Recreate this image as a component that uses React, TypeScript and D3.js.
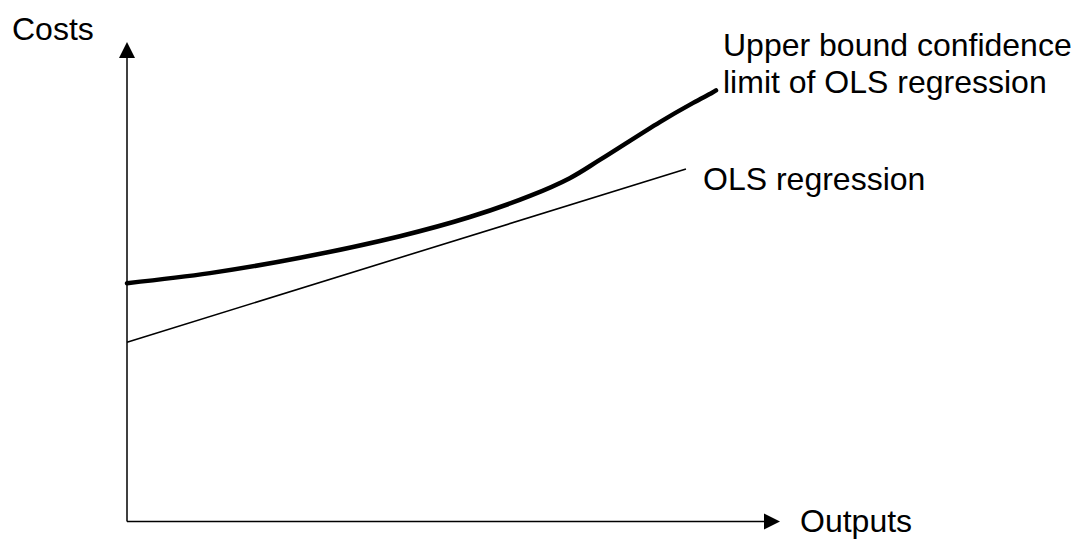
import React from "react";
import * as d3 from "d3";

// Abstract data space: outputs (x) 0..100, costs (y) 0..100
const upperBoundX = [0, 12.7, 26.5, 41.8, 52.5, 61.7, 67.8, 72.4, 81.6, 86.7, 89.6, 90.2];
const upperBoundY = [49.7, 51.8, 55.0, 59.5, 63.5, 67.9, 71.6, 75.4, 83.3, 87.3, 89.4, 89.9];
const olsX = [0, 85.6];
const olsY = [37.4, 73.5];

const axisLabelX = "Outputs";
const axisLabelY = "Costs";
const upperLabel = ["Upper bound confidence", "limit of OLS regression"];
const olsLabel = "OLS regression";

const W = 1074;
const H = 540;

export default function App() {
  const x = d3.scaleLinear().domain([0, 100]).range([127, 780]);
  const y = d3.scaleLinear().domain([0, 100]).range([521.5, 42]);

  const line = d3
    .line<[number, number]>()
    .x((d) => x(d[0]))
    .y((d) => y(d[1]))
    .curve(d3.curveCatmullRom.alpha(0.5));

  const upperPts: [number, number][] = upperBoundX.map((v, i) => [v, upperBoundY[i]]);
  const olsPts: [number, number][] = olsX.map((v, i) => [v, olsY[i]]);

  const x0 = x(0);
  const y0 = y(0);
  const xEnd = x(100);
  const yEnd = y(100);
  const ah = 16;
  const aw = 8;
  const font = "'Liberation Sans', Arial, sans-serif";

  return (
    <svg
      width={W}
      height={H}
      style={{ position: "absolute", left: 0, top: 0, display: "block", background: "#fff" }}
    >
      {/* axes */}
      <line x1={x0} y1={y0} x2={x0} y2={yEnd + ah - 1} stroke="#000" strokeWidth={1.5} />
      <line x1={x0} y1={y0} x2={xEnd - ah + 1} y2={y0} stroke="#000" strokeWidth={1.5} />
      <path
        d={`M${x0},${yEnd} L${x0 - aw},${yEnd + ah} L${x0 + aw},${yEnd + ah} Z`}
        fill="#000"
      />
      <path
        d={`M${xEnd},${y0} L${xEnd - ah},${y0 - aw} L${xEnd - ah},${y0 + aw} Z`}
        fill="#000"
      />

      {/* OLS regression */}
      <path d={line(olsPts) || ""} fill="none" stroke="#000" strokeWidth={1.6} />
      {/* Upper bound */}
      <path
        d={line(upperPts) || ""}
        fill="none"
        stroke="#000"
        strokeWidth={4.5}
        strokeLinecap="round"
        strokeLinejoin="round"
      />

      {/* labels */}
      <text x={12} y={40} fontFamily={font} fontSize={32} fill="#000">
        {axisLabelY}
      </text>
      <text x={800} y={532} fontFamily={font} fontSize={32} fill="#000">
        {axisLabelX}
      </text>
      <text x={723} y={56} fontFamily={font} fontSize={32} fill="#000">
        {upperLabel[0]}
      </text>
      <text x={723} y={93} fontFamily={font} fontSize={32} fill="#000">
        {upperLabel[1]}
      </text>
      <text x={703} y={190} fontFamily={font} fontSize={32} fill="#000">
        {olsLabel}
      </text>
    </svg>
  );
}
